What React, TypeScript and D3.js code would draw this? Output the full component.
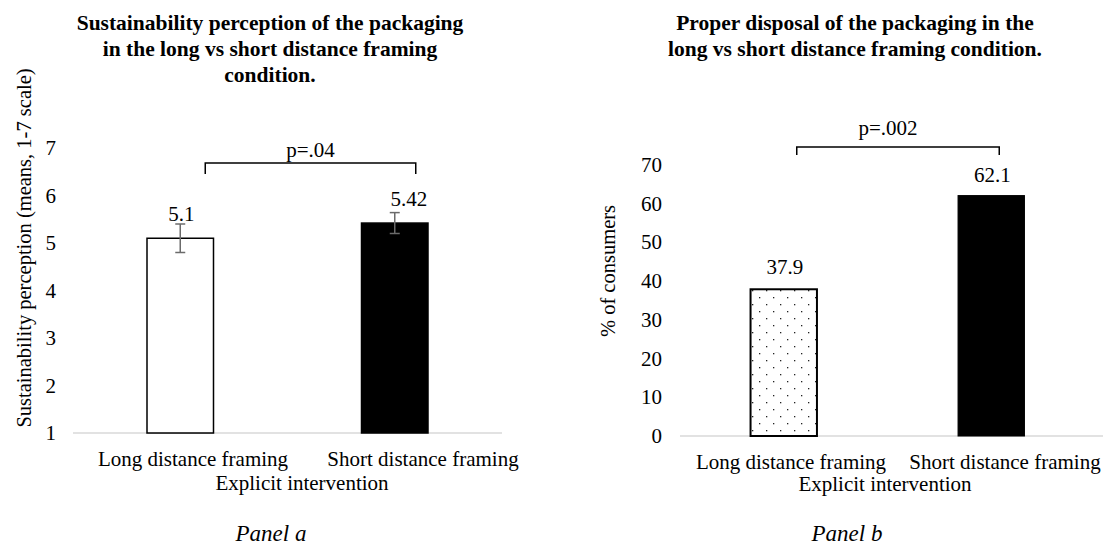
import * as d3 from "d3";

const categories = ["Long distance framing", "Short distance framing"];
const perceptionMeans = [5.1, 5.42];
const perceptionErrors = [0.3, 0.22];
const perceptionLabels = ["5.1", "5.42"];
const perceptionTicks = [1, 2, 3, 4, 5, 6, 7];
const disposalPct = [37.9, 62.1];
const disposalLabels = ["37.9", "62.1"];
const disposalTicks = [0, 10, 20, 30, 40, 50, 60, 70];

const titleA = [
  "Sustainability perception of the packaging",
  "in the long vs short distance framing",
  "condition.",
];
const titleB = [
  "Proper disposal of the packaging in the",
  "long vs short distance framing condition.",
];

const FONT = "'Times New Roman', 'Liberation Serif', serif";
const AXIS_GREY = "#d9d9d9";

export default function App() {
  const width = 1103;
  const height = 557;

  // panel a scales
  const xA = d3.scaleBand().domain(categories).range([73, 502]).paddingInner(0.69).paddingOuter(0.345);
  const xALabel = d3.scalePoint().domain(categories).range([193, 423]);
  const yA = d3.scaleLinear().domain([1, 7]).range([433, 148]);

  // panel b scales
  const xB = d3.scaleBand().domain(categories).range([680, 1095]).paddingInner(0.68).paddingOuter(0.34);
  const xBLabel = d3.scalePoint().domain(categories).range([791, 1005]);
  const yB = d3.scaleLinear().domain([0, 70]).range([436, 165]);

  const cx = (s, c) => s(c) + s.bandwidth() / 2;

  return (
    <svg
      width={width}
      height={height}
      style={{ position: "absolute", left: 0, top: 0, background: "#fff" }}
      fontFamily={FONT}
    >
      <defs>
        <pattern id="dots" width="14" height="14" patternUnits="userSpaceOnUse">
          <rect width="14" height="14" fill="#fff" />
          <rect x="3" y="3" width="1.3" height="1.3" fill="#222" />
          <rect x="10" y="10" width="1.3" height="1.3" fill="#222" />
        </pattern>
      </defs>

      {/* ---------- Panel a ---------- */}
      <g>
        {titleA.map((t, i) => (
          <text key={i} x={270} y={30 + i * 26} textAnchor="middle" fontWeight="bold" fontSize={21.5}>
            {t}
          </text>
        ))}
        <text transform={`translate(31, 248) rotate(-90)`} textAnchor="middle" fontSize={20.5}>
          Sustainability perception (means, 1-7 scale)
        </text>
        {perceptionTicks.map((t) => (
          <text key={t} x={56} y={yA(t) + 7} textAnchor="end" fontSize={21}>
            {t}
          </text>
        ))}
        <line x1={73} x2={502} y1={yA(1)} y2={yA(1)} stroke={AXIS_GREY} strokeWidth={1.5} />
        {categories.map((c, i) => (
          <rect
            key={c}
            x={xA(c)}
            y={yA(perceptionMeans[i])}
            width={xA.bandwidth()}
            height={yA(1) - yA(perceptionMeans[i])}
            fill={i === 0 ? "#fff" : "#000"}
            stroke="#000"
            strokeWidth={1.5}
          />
        ))}
        {categories.map((c, i) => {
          const x = cx(xA, c);
          const top = yA(perceptionMeans[i] + perceptionErrors[i]);
          const bot = yA(perceptionMeans[i] - perceptionErrors[i]);
          return (
            <g key={c} stroke="#6b6b6b" strokeWidth={1.5}>
              <line x1={x} x2={x} y1={top} y2={bot} />
              <line x1={x - 5} x2={x + 5} y1={top} y2={top} />
              <line x1={x - 5} x2={x + 5} y1={bot} y2={bot} />
            </g>
          );
        })}
        {categories.map((c, i) => (
          <text
            key={c}
            x={cx(xA, c) + (i === 0 ? 1 : 14)}
            y={yA(perceptionMeans[i]) - (i === 0 ? 17 : 17)}
            textAnchor="middle"
            fontSize={21}
          >
            {perceptionLabels[i]}
          </text>
        ))}
        {/* significance bracket */}
        <path
          d={`M${cx(xA, categories[0]) + 25},${174} V${163} H${cx(xA, categories[1]) + 21} V${174}`}
          fill="none"
          stroke="#000"
          strokeWidth={1.5}
        />
        <text x={(cx(xA, categories[0]) + cx(xA, categories[1])) / 2 + 23} y={157} textAnchor="middle" fontSize={21}>
          p=.04
        </text>
        {categories.map((c) => (
          <text key={c} x={xALabel(c)} y={466} textAnchor="middle" fontSize={21}>
            {c}
          </text>
        ))}
        <text x={302} y={490} textAnchor="middle" fontSize={21}>
          Explicit intervention
        </text>
        <text x={271} y={541} textAnchor="middle" fontSize={23} fontStyle="italic">
          Panel a
        </text>
      </g>

      {/* ---------- Panel b ---------- */}
      <g>
        {titleB.map((t, i) => (
          <text key={i} x={855} y={30 + i * 26} textAnchor="middle" fontWeight="bold" fontSize={21.5}>
            {t}
          </text>
        ))}
        <text transform={`translate(615, 271) rotate(-90)`} textAnchor="middle" fontSize={20.5}>
          % of consumers
        </text>
        {disposalTicks.map((t) => (
          <text key={t} x={662} y={yB(t) + 7} textAnchor="end" fontSize={21}>
            {t}
          </text>
        ))}
        <line x1={680} x2={1103} y1={yB(0)} y2={yB(0)} stroke={AXIS_GREY} strokeWidth={1.5} />
        {categories.map((c, i) => (
          <rect
            key={c}
            x={xB(c)}
            y={yB(disposalPct[i])}
            width={xB.bandwidth()}
            height={yB(0) - yB(disposalPct[i])}
            fill={i === 0 ? "url(#dots)" : "#000"}
            stroke="#000"
            strokeWidth={i === 0 ? 2 : 1}
          />
        ))}
        {categories.map((c, i) => (
          <text
            key={c}
            x={cx(xB, c) + 1}
            y={yB(disposalPct[i]) - (i === 0 ? 15 : 14)}
            textAnchor="middle"
            fontSize={21}
          >
            {disposalLabels[i]}
          </text>
        ))}
        <path
          d={`M${cx(xB, categories[0]) + 13},${155} V${147} H${cx(xB, categories[1]) + 8} V${155}`}
          fill="none"
          stroke="#000"
          strokeWidth={1.5}
        />
        <text x={888} y={135} textAnchor="middle" fontSize={21}>
          p=.002
        </text>
        {categories.map((c) => (
          <text key={c} x={xBLabel(c)} y={469} textAnchor="middle" fontSize={21}>
            {c}
          </text>
        ))}
        <text x={885} y={491} textAnchor="middle" fontSize={21}>
          Explicit intervention
        </text>
        <text x={847} y={541} textAnchor="middle" fontSize={23} fontStyle="italic">
          Panel b
        </text>
      </g>
    </svg>
  );
}
